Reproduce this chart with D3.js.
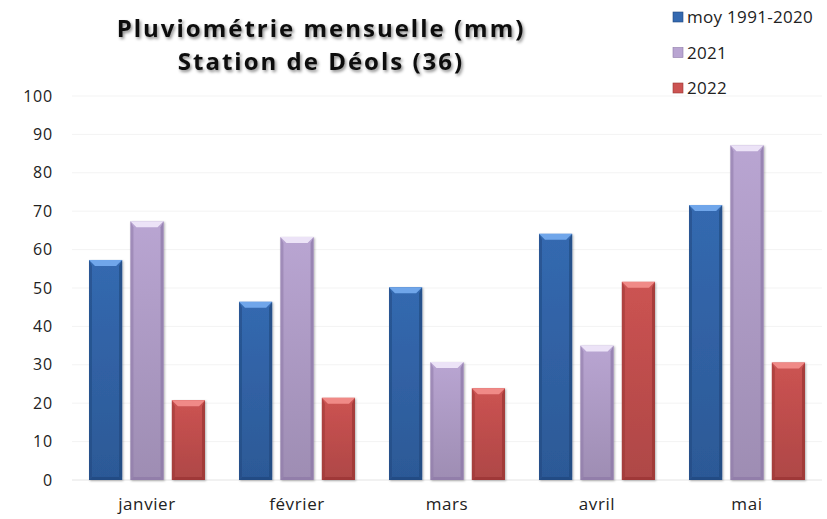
<!DOCTYPE html>
<meta charset="utf-8">
<style>
  body { margin: 0; background: #fff; }
  text { font-family: "Open Sans", "DejaVu Sans", sans-serif; }
</style>
<svg width="827" height="519"></svg>
<script src="https://d3js.org/d3.v7.min.js"></script>
<script>
var months = ["janvier", "février", "mars", "avril", "mai"];
var seriesNames = ["moy 1991-2020", "2021", "2022"];
var moy = [57.3, 46.4, 50.2, 64.1, 71.6];
var y2021 = [67.4, 63.3, 30.7, 35.0, 87.2];
var y2022 = [20.8, 21.4, 23.9, 51.6, 30.6];
var yTicks = [0, 10, 20, 30, 40, 50, 60, 70, 80, 90, 100];

var series = [moy, y2021, y2022];
var colors = [
    { main: "#3469b0", dark: "#21497f", top: "#6fa6ea" },
    { main: "#b9a5d2", dark: "#8e7aa8", top: "#ece3f7" },
    { main: "#cc5352", dark: "#9b3634", top: "#f08a87" }
];

var svg = d3.select("svg");
var plotLeft = 72, plotRight = 822, plotTop = 96, plotBottom = 480;

var x0 = d3.scaleBand().domain(months).range([plotLeft, plotRight]);
var x1 = d3.scaleBand().domain([0, 1, 2]).range([17, 133]).paddingInner(0.2);
var y = d3.scaleLinear().domain([0, 100]).range([plotBottom, plotTop]);

var defs = svg.append("defs");
colors.forEach(function(c, i) {
    var g = defs.append("linearGradient").attr("id", "grad" + i)
        .attr("x1", 0).attr("x2", 0).attr("y1", 0).attr("y2", 1);
    g.append("stop").attr("offset", "0%").attr("stop-color", c.main);
    g.append("stop").attr("offset", "100%").attr("stop-color", d3.color(c.main).darker(0.45));
});
var sh = defs.append("filter").attr("id", "tshadow")
    .attr("x", "-10%").attr("y", "-20%").attr("width", "120%").attr("height", "160%");
sh.append("feDropShadow").attr("dx", 1.5).attr("dy", 2).attr("stdDeviation", 1.5)
    .attr("flood-color", "#000").attr("flood-opacity", 0.45);
var bsh = defs.append("filter").attr("id", "bshadow")
    .attr("x", "-20%").attr("y", "-5%").attr("width", "140%").attr("height", "110%");
bsh.append("feDropShadow").attr("dx", 1).attr("dy", 1).attr("stdDeviation", 1.2)
    .attr("flood-color", "#000").attr("flood-opacity", 0.3);

// gridlines
svg.append("g").selectAll("line").data(yTicks).join("line")
    .attr("x1", plotLeft).attr("x2", plotRight)
    .attr("y1", function(d) { return y(d); }).attr("y2", function(d) { return y(d); })
    .attr("stroke", function(d) { return d === 0 ? "#e4e4e4" : "#f3f3f3"; })
    .attr("stroke-width", 1);

// y axis labels
svg.append("g").selectAll("text").data(yTicks).join("text")
    .attr("x", 53).attr("y", function(d) { return y(d) + 5.5; })
    .attr("text-anchor", "end")
    .attr("font-size", 16).attr("letter-spacing", 0.8).attr("fill", "#222")
    .text(function(d) { return d; });

// month labels
svg.append("g").selectAll("text").data(months).join("text")
    .attr("x", function(d) { return x0(d) + x0.bandwidth() / 2; })
    .attr("y", 510)
    .attr("text-anchor", "middle")
    .attr("font-size", 17).attr("letter-spacing", 0.6).attr("fill", "#222")
    .text(function(d) { return d; });

// bars
var bev = 6;
months.forEach(function(m, mi) {
    series.forEach(function(s, si) {
        var c = colors[si];
        var bx = x0(m) + x1(si), bw = x1.bandwidth();
        var by = y(s[mi]), bh = y(0) - by;
        var g = svg.append("g").attr("filter", "url(#bshadow)");
        g.append("rect").attr("x", bx).attr("y", by).attr("width", bw).attr("height", bh)
            .attr("fill", "url(#grad" + si + ")");
        g.append("polygon").attr("points", [[bx, by], [bx + 3, by + bev], [bx + 3, by + bh - 3], [bx, by + bh]].join(" "))
            .attr("fill", c.dark).attr("opacity", 0.55);
        g.append("polygon").attr("points", [[bx + bw, by], [bx + bw - 3, by + bev], [bx + bw - 3, by + bh - 3], [bx + bw, by + bh]].join(" "))
            .attr("fill", c.dark).attr("opacity", 0.75);
        g.append("polygon").attr("points", [[bx, by], [bx + bw, by], [bx + bw - bev, by + bev], [bx + bev, by + bev]].join(" "))
            .attr("fill", c.top);
        g.append("polygon").attr("points", [[bx, by + bh], [bx + bw, by + bh], [bx + bw - 3, by + bh - 3], [bx + 3, by + bh - 3]].join(" "))
            .attr("fill", c.dark).attr("opacity", 0.8);
    });
});

// title
var title = svg.append("text").attr("text-anchor", "middle")
    .attr("font-size", 24).attr("font-weight", "bold").attr("fill", "#111")
    .attr("letter-spacing", 2).attr("filter", "url(#tshadow)");
title.append("tspan").attr("x", 321).attr("y", 37).text("Pluviométrie mensuelle (mm)");
title.append("tspan").attr("x", 321).attr("y", 70).text("Station de Déols (36)");

// legend
var leg = svg.append("g").selectAll("g").data(seriesNames).join("g")
    .attr("transform", function(d, i) { return "translate(673," + (17 + i * 35.5) + ")"; });
leg.append("rect").attr("x", 0).attr("y", -5).attr("width", 10).attr("height", 10)
    .attr("fill", function(d, i) { return colors[i].main; })
    .attr("stroke", function(d, i) { return colors[i].dark; }).attr("stroke-width", 0.6);
leg.append("text").attr("x", 14).attr("y", 6)
    .attr("font-size", 17).attr("letter-spacing", 0.3).attr("fill", "#222")
    .text(function(d) { return d; });
</script>
